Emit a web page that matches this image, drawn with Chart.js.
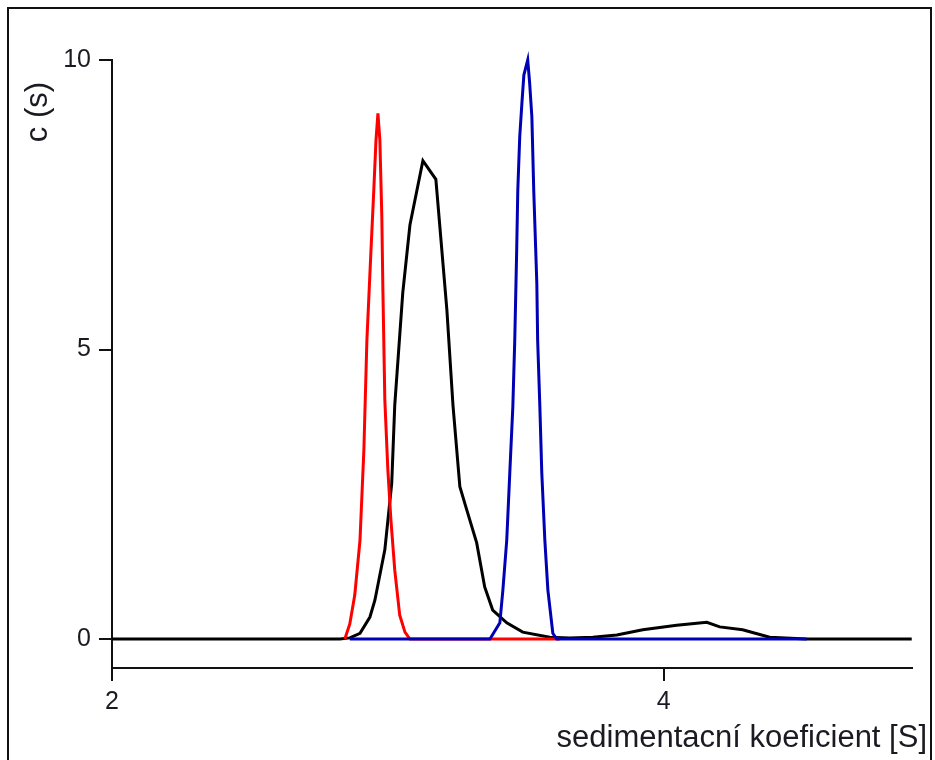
<!DOCTYPE html>
<html>
<head>
<meta charset="utf-8">
<script src="https://cdn.jsdelivr.net/npm/chart.js@4.4.1/dist/chart.umd.min.js"></script>
<style>
  html, body { margin: 0; padding: 0; background: #fff; overflow: hidden; }
  #wrap { position: relative; width: 935px; height: 760px; }
  #frame {
    position: absolute; left: 7px; top: 7px; width: 925px; height: 800px;
    border: 2px solid #111; box-sizing: border-box; pointer-events: none;
  }
  canvas { position: absolute; left: 0; top: 0; }
</style>
</head>
<body>
<div id="wrap">
  <canvas id="chart" width="935" height="760"></canvas>
  <div id="frame"></div>
</div>
<script>
  // sedimentation coefficient (S) / c(s) pairs
  const redS = [2.844, 2.862, 2.880, 2.899, 2.913, 2.924, 2.938, 2.949, 2.957, 2.964, 2.971, 2.978, 2.982, 2.989, 3.000, 3.011, 3.025, 3.043, 3.062, 3.080, 3.623];
  const redC = [0, 0.26, 0.76, 1.71, 3.26, 5.16, 6.63, 7.75, 8.62, 9.08, 8.62, 7.32, 6.03, 4.13, 2.92, 2.06, 1.19, 0.41, 0.12, 0, 0];

  const blackS = [2.000, 2.826, 2.862, 2.899, 2.935, 2.953, 2.989, 3.014, 3.025, 3.054, 3.080, 3.127, 3.174, 3.214, 3.236, 3.261, 3.286, 3.322, 3.351, 3.380, 3.431, 3.489, 3.587, 3.659, 3.743, 3.830, 3.924, 4.047, 4.156, 4.203, 4.286, 4.384, 4.518, 4.899];
  const blackC = [0, 0, 0.02, 0.10, 0.38, 0.67, 1.54, 2.69, 4.04, 5.98, 7.15, 8.26, 7.94, 5.68, 4.04, 2.63, 2.23, 1.66, 0.90, 0.50, 0.28, 0.12, 0.03, 0.02, 0.03, 0.07, 0.16, 0.24, 0.29, 0.21, 0.16, 0.03, 0, 0];

  const blueS = [2.862, 3.370, 3.406, 3.417, 3.431, 3.442, 3.453, 3.460, 3.467, 3.471, 3.478, 3.486, 3.493, 3.507, 3.514, 3.522, 3.529, 3.540, 3.543, 3.551, 3.558, 3.569, 3.580, 3.598, 3.612, 4.518];
  const blueC = [0, 0, 0.28, 0.85, 1.71, 2.87, 4.01, 5.16, 6.72, 7.75, 8.67, 9.26, 9.74, 10.0, 9.60, 9.02, 7.72, 6.14, 5.16, 4.01, 2.87, 1.71, 0.85, 0.10, 0, 0];

  const xTicks = [2, 4];
  const yTicks = [0, 5, 10];

  const xTitle = "sedimentacní koeficient [S]";
  const yTitle = "c (s)";

  function pairs(xs, ys) {
    return xs.map(function (x, i) {
      return { x: x, y: ys[i] };
    });
  }

  const FONT = "'Liberation Sans', Arial, sans-serif";
  const AXIS = "#111";
  const TEXT = "#1a1a22";

  // axis titles sit off-centre in the original, so draw them by hand
  const titlesPlugin = {
    id: "titles",
    afterDraw: function (chart) {
      const ctx = chart.ctx;
      ctx.save();
      ctx.fillStyle = TEXT;
      ctx.font = "31px " + FONT;
      ctx.textAlign = "right";
      ctx.textBaseline = "alphabetic";
      ctx.fillText(xTitle, 927, 747);
      ctx.translate(38, 112);
      ctx.rotate(-Math.PI / 2);
      ctx.textAlign = "center";
      ctx.textBaseline = "middle";
      ctx.fillText(yTitle, 0, 0);
      ctx.restore();
    },
  };

  function lineSet(label, xs, ys, color) {
    return {
      label: label,
      data: pairs(xs, ys),
      borderColor: color,
      backgroundColor: color,
      borderWidth: 3,
      pointRadius: 0,
      tension: 0,
      fill: false,
      clip: false,
    };
  }

  new Chart(document.getElementById("chart").getContext("2d"), {
    type: "line",
    data: {
      datasets: [
        lineSet("blue", blueS, blueC, "#0000b4"),
        lineSet("red", redS, redC, "#ff0000"),
        lineSet("black", blackS, blackC, "#000000"),
      ],
    },
    options: {
      responsive: false,
      animation: false,
      devicePixelRatio: 1,
      layout: { padding: { top: 60, right: 23, bottom: 0, left: 0 } },
      plugins: { legend: { display: false }, tooltip: { enabled: false } },
      scales: {
        x: {
          type: "linear",
          min: 2,
          max: 4.9,
          afterFit: function (s) { s.height = 92; },
          afterBuildTicks: function (s) {
            s.ticks = xTicks.map(function (v) { return { value: v }; });
          },
          border: { display: true, color: AXIS, width: 2 },
          grid: { drawOnChartArea: false, drawTicks: true, tickLength: 13, color: AXIS, lineWidth: 2 },
          ticks: { color: TEXT, font: { family: FONT, size: 25 }, padding: 6, maxRotation: 0 },
        },
        y: {
          type: "linear",
          min: -0.5,
          max: 10,
          afterFit: function (s) { s.width = 112; },
          afterBuildTicks: function (s) {
            s.ticks = yTicks.map(function (v) { return { value: v }; });
          },
          border: { display: true, color: AXIS, width: 2 },
          grid: { drawOnChartArea: false, drawTicks: true, tickLength: 13, color: AXIS, lineWidth: 2 },
          ticks: { color: TEXT, font: { family: FONT, size: 25 }, padding: 8 },
        },
      },
    },
    plugins: [titlesPlugin],
  });
</script>
</body>
</html>
